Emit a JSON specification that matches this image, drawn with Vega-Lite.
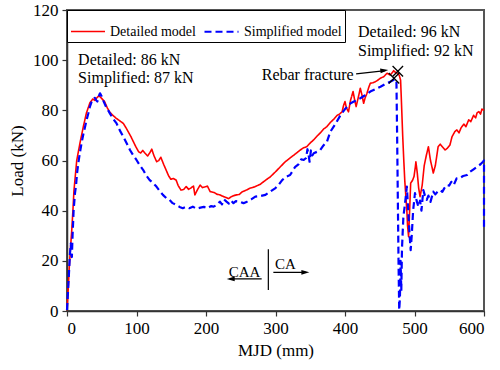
{
  "$schema": "https://vega.github.io/schema/vega-lite/v6.json",
  "width": 417,
  "height": 301,
  "autosize": {"type": "none"},
  "padding": {"left": 67, "top": 10, "right": 16, "bottom": 59},
  "config": {
    "view": {"stroke": "#555", "strokeWidth": 2},
    "font": "Liberation Serif",
    "axis": {
      "grid": false,
      "labelFont": "Liberation Serif",
      "labelFontSize": 17,
      "labelColor": "#000",
      "titleFont": "Liberation Serif",
      "titleFontSize": 17,
      "titleFontWeight": "normal",
      "titleColor": "#000",
      "domainColor": "#333",
      "domainWidth": 1.5,
      "tickColor": "#333",
      "tickWidth": 1.2,
      "labelOverlap": false,
      "labelPadding": 4
    },
    "legend": {
      "orient": "top-left",
      "offset": 0,
      "direction": "horizontal",
      "strokeColor": "#000",
      "fillColor": "#fff",
      "padding": 3,
      "labelFont": "Liberation Serif",
      "labelFontSize": 14,
      "labelColor": "#000",
      "symbolType": "stroke",
      "symbolSize": 1156,
      "symbolStrokeWidth": 1.8,
      "labelOffset": 4,
      "columnPadding": 4
    }
  },
  "datasets": {
    "curves": [
      {"model": "Detailed model", "x": 0, "y": 0.3},
      {"model": "Detailed model", "x": 2, "y": 10},
      {"model": "Detailed model", "x": 3.3, "y": 17.7},
      {"model": "Detailed model", "x": 5, "y": 25},
      {"model": "Detailed model", "x": 6.8, "y": 32},
      {"model": "Detailed model", "x": 8.5, "y": 40},
      {"model": "Detailed model", "x": 10, "y": 48},
      {"model": "Detailed model", "x": 12, "y": 54},
      {"model": "Detailed model", "x": 14, "y": 60},
      {"model": "Detailed model", "x": 18.7, "y": 67},
      {"model": "Detailed model", "x": 23.5, "y": 73.5},
      {"model": "Detailed model", "x": 28, "y": 79},
      {"model": "Detailed model", "x": 33, "y": 83},
      {"model": "Detailed model", "x": 37, "y": 84.5},
      {"model": "Detailed model", "x": 40, "y": 84},
      {"model": "Detailed model", "x": 43, "y": 85},
      {"model": "Detailed model", "x": 46, "y": 85.8},
      {"model": "Detailed model", "x": 49, "y": 85},
      {"model": "Detailed model", "x": 54, "y": 83.5},
      {"model": "Detailed model", "x": 58, "y": 81},
      {"model": "Detailed model", "x": 61, "y": 79.5},
      {"model": "Detailed model", "x": 66, "y": 78},
      {"model": "Detailed model", "x": 71, "y": 76.8},
      {"model": "Detailed model", "x": 76, "y": 75.8},
      {"model": "Detailed model", "x": 81, "y": 74.8},
      {"model": "Detailed model", "x": 85, "y": 73},
      {"model": "Detailed model", "x": 88, "y": 71.5},
      {"model": "Detailed model", "x": 92, "y": 69.5},
      {"model": "Detailed model", "x": 95.5, "y": 67.5},
      {"model": "Detailed model", "x": 99, "y": 65.5},
      {"model": "Detailed model", "x": 103, "y": 63.5},
      {"model": "Detailed model", "x": 106, "y": 63},
      {"model": "Detailed model", "x": 109, "y": 64},
      {"model": "Detailed model", "x": 112, "y": 63},
      {"model": "Detailed model", "x": 116, "y": 61.8},
      {"model": "Detailed model", "x": 119, "y": 63},
      {"model": "Detailed model", "x": 122, "y": 64.5},
      {"model": "Detailed model", "x": 125, "y": 62},
      {"model": "Detailed model", "x": 129, "y": 59.5},
      {"model": "Detailed model", "x": 132, "y": 60},
      {"model": "Detailed model", "x": 135, "y": 61.3},
      {"model": "Detailed model", "x": 139, "y": 58.5},
      {"model": "Detailed model", "x": 142.6, "y": 56.2},
      {"model": "Detailed model", "x": 146, "y": 54},
      {"model": "Detailed model", "x": 149.4, "y": 52.5},
      {"model": "Detailed model", "x": 153, "y": 52.8},
      {"model": "Detailed model", "x": 157, "y": 52.2},
      {"model": "Detailed model", "x": 160, "y": 50},
      {"model": "Detailed model", "x": 164, "y": 48.2},
      {"model": "Detailed model", "x": 168, "y": 48.5},
      {"model": "Detailed model", "x": 171.5, "y": 49.6},
      {"model": "Detailed model", "x": 175, "y": 48.5},
      {"model": "Detailed model", "x": 178, "y": 49},
      {"model": "Detailed model", "x": 182, "y": 49.8},
      {"model": "Detailed model", "x": 184, "y": 46.3},
      {"model": "Detailed model", "x": 188, "y": 48.5},
      {"model": "Detailed model", "x": 191.6, "y": 50.2},
      {"model": "Detailed model", "x": 195, "y": 49.2},
      {"model": "Detailed model", "x": 198.8, "y": 49.5},
      {"model": "Detailed model", "x": 202, "y": 49.8},
      {"model": "Detailed model", "x": 206, "y": 47.6},
      {"model": "Detailed model", "x": 212, "y": 47.2},
      {"model": "Detailed model", "x": 216, "y": 46.5},
      {"model": "Detailed model", "x": 220, "y": 46.3},
      {"model": "Detailed model", "x": 226, "y": 45.5},
      {"model": "Detailed model", "x": 229.5, "y": 45.2},
      {"model": "Detailed model", "x": 232.5, "y": 44.8},
      {"model": "Detailed model", "x": 236, "y": 45.5},
      {"model": "Detailed model", "x": 240, "y": 46},
      {"model": "Detailed model", "x": 244, "y": 46.3},
      {"model": "Detailed model", "x": 248, "y": 46.5},
      {"model": "Detailed model", "x": 252, "y": 47.5},
      {"model": "Detailed model", "x": 258, "y": 48.2},
      {"model": "Detailed model", "x": 263.7, "y": 49},
      {"model": "Detailed model", "x": 270, "y": 49.5},
      {"model": "Detailed model", "x": 278, "y": 50.5},
      {"model": "Detailed model", "x": 285, "y": 52},
      {"model": "Detailed model", "x": 292.5, "y": 53.5},
      {"model": "Detailed model", "x": 300, "y": 55.5},
      {"model": "Detailed model", "x": 307, "y": 57.5},
      {"model": "Detailed model", "x": 314, "y": 59.5},
      {"model": "Detailed model", "x": 321, "y": 61},
      {"model": "Detailed model", "x": 328, "y": 62.5},
      {"model": "Detailed model", "x": 335.7, "y": 64.2},
      {"model": "Detailed model", "x": 340, "y": 65},
      {"model": "Detailed model", "x": 345, "y": 65.5},
      {"model": "Detailed model", "x": 350, "y": 67},
      {"model": "Detailed model", "x": 354.8, "y": 68.2},
      {"model": "Detailed model", "x": 360, "y": 69.8},
      {"model": "Detailed model", "x": 364.5, "y": 71},
      {"model": "Detailed model", "x": 369, "y": 72.5},
      {"model": "Detailed model", "x": 374, "y": 73.5},
      {"model": "Detailed model", "x": 379, "y": 75.2},
      {"model": "Detailed model", "x": 384, "y": 76.5},
      {"model": "Detailed model", "x": 388.6, "y": 78},
      {"model": "Detailed model", "x": 392, "y": 78.5},
      {"model": "Detailed model", "x": 395.8, "y": 79.4},
      {"model": "Detailed model", "x": 398, "y": 82},
      {"model": "Detailed model", "x": 400, "y": 83.5},
      {"model": "Detailed model", "x": 402, "y": 81},
      {"model": "Detailed model", "x": 405, "y": 79.4},
      {"model": "Detailed model", "x": 408, "y": 84},
      {"model": "Detailed model", "x": 411.6, "y": 87.5},
      {"model": "Detailed model", "x": 414, "y": 84},
      {"model": "Detailed model", "x": 416, "y": 81.5},
      {"model": "Detailed model", "x": 419, "y": 85},
      {"model": "Detailed model", "x": 422, "y": 88.8},
      {"model": "Detailed model", "x": 424.5, "y": 86},
      {"model": "Detailed model", "x": 426.8, "y": 82.8},
      {"model": "Detailed model", "x": 429, "y": 85},
      {"model": "Detailed model", "x": 431.6, "y": 86.8},
      {"model": "Detailed model", "x": 434, "y": 89},
      {"model": "Detailed model", "x": 436.4, "y": 90.8},
      {"model": "Detailed model", "x": 440, "y": 91},
      {"model": "Detailed model", "x": 443.6, "y": 91.4},
      {"model": "Detailed model", "x": 447, "y": 92},
      {"model": "Detailed model", "x": 450.9, "y": 92.8},
      {"model": "Detailed model", "x": 455.7, "y": 93.4},
      {"model": "Detailed model", "x": 460.5, "y": 94.8},
      {"model": "Detailed model", "x": 465, "y": 94.1},
      {"model": "Detailed model", "x": 468, "y": 95},
      {"model": "Detailed model", "x": 470, "y": 95.8},
      {"model": "Detailed model", "x": 473, "y": 95},
      {"model": "Detailed model", "x": 476, "y": 94.8},
      {"model": "Detailed model", "x": 478, "y": 94},
      {"model": "Detailed model", "x": 480, "y": 92},
      {"model": "Detailed model", "x": 481, "y": 85},
      {"model": "Detailed model", "x": 482, "y": 77.5},
      {"model": "Detailed model", "x": 483, "y": 70},
      {"model": "Detailed model", "x": 484.6, "y": 60},
      {"model": "Detailed model", "x": 486, "y": 52},
      {"model": "Detailed model", "x": 487, "y": 48},
      {"model": "Detailed model", "x": 489, "y": 40},
      {"model": "Detailed model", "x": 490, "y": 34},
      {"model": "Detailed model", "x": 491.5, "y": 29.6},
      {"model": "Detailed model", "x": 493, "y": 40},
      {"model": "Detailed model", "x": 494.5, "y": 51},
      {"model": "Detailed model", "x": 497, "y": 52},
      {"model": "Detailed model", "x": 499.3, "y": 53.6},
      {"model": "Detailed model", "x": 501, "y": 57},
      {"model": "Detailed model", "x": 502, "y": 59.5},
      {"model": "Detailed model", "x": 504, "y": 55},
      {"model": "Detailed model", "x": 506, "y": 49},
      {"model": "Detailed model", "x": 508, "y": 45.6},
      {"model": "Detailed model", "x": 511, "y": 50},
      {"model": "Detailed model", "x": 514, "y": 58},
      {"model": "Detailed model", "x": 517, "y": 62},
      {"model": "Detailed model", "x": 520, "y": 65.5},
      {"model": "Detailed model", "x": 523, "y": 60},
      {"model": "Detailed model", "x": 525.5, "y": 57},
      {"model": "Detailed model", "x": 527, "y": 55},
      {"model": "Detailed model", "x": 530, "y": 58},
      {"model": "Detailed model", "x": 534, "y": 65.5},
      {"model": "Detailed model", "x": 537, "y": 66.5},
      {"model": "Detailed model", "x": 540, "y": 65.5},
      {"model": "Detailed model", "x": 544, "y": 64.2},
      {"model": "Detailed model", "x": 547, "y": 64.8},
      {"model": "Detailed model", "x": 551, "y": 66.2},
      {"model": "Detailed model", "x": 554, "y": 69.5},
      {"model": "Detailed model", "x": 558, "y": 71.5},
      {"model": "Detailed model", "x": 561, "y": 72.2},
      {"model": "Detailed model", "x": 564, "y": 71},
      {"model": "Detailed model", "x": 567, "y": 73},
      {"model": "Detailed model", "x": 571, "y": 74.5},
      {"model": "Detailed model", "x": 574, "y": 73.5},
      {"model": "Detailed model", "x": 578, "y": 76.2},
      {"model": "Detailed model", "x": 581, "y": 75.5},
      {"model": "Detailed model", "x": 585, "y": 78},
      {"model": "Detailed model", "x": 588, "y": 77},
      {"model": "Detailed model", "x": 590, "y": 79},
      {"model": "Detailed model", "x": 592.6, "y": 79.5},
      {"model": "Detailed model", "x": 595, "y": 78.5},
      {"model": "Detailed model", "x": 597, "y": 80.5},
      {"model": "Detailed model", "x": 600, "y": 80},
      {"model": "Simplified model", "x": 0, "y": 0.4},
      {"model": "Simplified model", "x": 1.5, "y": 8},
      {"model": "Simplified model", "x": 3, "y": 16},
      {"model": "Simplified model", "x": 4.3, "y": 23},
      {"model": "Simplified model", "x": 5.5, "y": 27},
      {"model": "Simplified model", "x": 6.3, "y": 22},
      {"model": "Simplified model", "x": 7, "y": 21.5},
      {"model": "Simplified model", "x": 8, "y": 30},
      {"model": "Simplified model", "x": 9.5, "y": 40},
      {"model": "Simplified model", "x": 11.5, "y": 47},
      {"model": "Simplified model", "x": 13, "y": 50},
      {"model": "Simplified model", "x": 14.5, "y": 55},
      {"model": "Simplified model", "x": 16.3, "y": 59},
      {"model": "Simplified model", "x": 18.5, "y": 63},
      {"model": "Simplified model", "x": 21, "y": 67},
      {"model": "Simplified model", "x": 23.5, "y": 70.5},
      {"model": "Simplified model", "x": 26, "y": 73.5},
      {"model": "Simplified model", "x": 28.5, "y": 76.5},
      {"model": "Simplified model", "x": 30.7, "y": 78.8},
      {"model": "Simplified model", "x": 33, "y": 81.5},
      {"model": "Simplified model", "x": 35.5, "y": 83.5},
      {"model": "Simplified model", "x": 38, "y": 84.5},
      {"model": "Simplified model", "x": 40, "y": 85},
      {"model": "Simplified model", "x": 42, "y": 84},
      {"model": "Simplified model", "x": 43.7, "y": 83.5},
      {"model": "Simplified model", "x": 45.5, "y": 85.5},
      {"model": "Simplified model", "x": 47.5, "y": 86.8},
      {"model": "Simplified model", "x": 50, "y": 85.5},
      {"model": "Simplified model", "x": 52, "y": 84},
      {"model": "Simplified model", "x": 56, "y": 81.5},
      {"model": "Simplified model", "x": 61.7, "y": 78.8},
      {"model": "Simplified model", "x": 66, "y": 76.8},
      {"model": "Simplified model", "x": 71.3, "y": 74.8},
      {"model": "Simplified model", "x": 76, "y": 72},
      {"model": "Simplified model", "x": 81, "y": 69.5},
      {"model": "Simplified model", "x": 86, "y": 66.8},
      {"model": "Simplified model", "x": 90.6, "y": 64.2},
      {"model": "Simplified model", "x": 95, "y": 62.2},
      {"model": "Simplified model", "x": 100, "y": 60.2},
      {"model": "Simplified model", "x": 105, "y": 58},
      {"model": "Simplified model", "x": 109.7, "y": 56.2},
      {"model": "Simplified model", "x": 114, "y": 54},
      {"model": "Simplified model", "x": 119, "y": 52.2},
      {"model": "Simplified model", "x": 124, "y": 51},
      {"model": "Simplified model", "x": 128.7, "y": 49.6},
      {"model": "Simplified model", "x": 133, "y": 48},
      {"model": "Simplified model", "x": 138, "y": 46.3},
      {"model": "Simplified model", "x": 143, "y": 45},
      {"model": "Simplified model", "x": 147.6, "y": 44.3},
      {"model": "Simplified model", "x": 152, "y": 43},
      {"model": "Simplified model", "x": 157, "y": 42.3},
      {"model": "Simplified model", "x": 162, "y": 41.5},
      {"model": "Simplified model", "x": 166.6, "y": 41},
      {"model": "Simplified model", "x": 171, "y": 41.5},
      {"model": "Simplified model", "x": 176, "y": 41},
      {"model": "Simplified model", "x": 181, "y": 41.6},
      {"model": "Simplified model", "x": 186, "y": 40.8},
      {"model": "Simplified model", "x": 192, "y": 41.2},
      {"model": "Simplified model", "x": 197, "y": 41.5},
      {"model": "Simplified model", "x": 202, "y": 41},
      {"model": "Simplified model", "x": 207, "y": 41.8},
      {"model": "Simplified model", "x": 211, "y": 41.6},
      {"model": "Simplified model", "x": 215.7, "y": 42.3},
      {"model": "Simplified model", "x": 220, "y": 43.6},
      {"model": "Simplified model", "x": 223, "y": 42.5},
      {"model": "Simplified model", "x": 226, "y": 44.5},
      {"model": "Simplified model", "x": 229.5, "y": 43.6},
      {"model": "Simplified model", "x": 233, "y": 42.8},
      {"model": "Simplified model", "x": 236, "y": 44},
      {"model": "Simplified model", "x": 239.5, "y": 43},
      {"model": "Simplified model", "x": 243, "y": 43.8},
      {"model": "Simplified model", "x": 248.6, "y": 43.6},
      {"model": "Simplified model", "x": 254, "y": 43},
      {"model": "Simplified model", "x": 259, "y": 43.6},
      {"model": "Simplified model", "x": 265, "y": 44.5},
      {"model": "Simplified model", "x": 271, "y": 45.6},
      {"model": "Simplified model", "x": 278, "y": 45.8},
      {"model": "Simplified model", "x": 285.5, "y": 46.3},
      {"model": "Simplified model", "x": 292, "y": 47.5},
      {"model": "Simplified model", "x": 300, "y": 49},
      {"model": "Simplified model", "x": 305, "y": 50.5},
      {"model": "Simplified model", "x": 309.6, "y": 52.2},
      {"model": "Simplified model", "x": 315, "y": 53.5},
      {"model": "Simplified model", "x": 321, "y": 54.2},
      {"model": "Simplified model", "x": 325, "y": 56},
      {"model": "Simplified model", "x": 328.4, "y": 57.5},
      {"model": "Simplified model", "x": 333, "y": 58.5},
      {"model": "Simplified model", "x": 337, "y": 60.5},
      {"model": "Simplified model", "x": 340.6, "y": 60.2},
      {"model": "Simplified model", "x": 344, "y": 61},
      {"model": "Simplified model", "x": 346, "y": 64.5},
      {"model": "Simplified model", "x": 347.7, "y": 62.2},
      {"model": "Simplified model", "x": 349, "y": 59.5},
      {"model": "Simplified model", "x": 351, "y": 64},
      {"model": "Simplified model", "x": 353, "y": 62},
      {"model": "Simplified model", "x": 355, "y": 62.9},
      {"model": "Simplified model", "x": 360, "y": 63.5},
      {"model": "Simplified model", "x": 364.5, "y": 64.2},
      {"model": "Simplified model", "x": 369, "y": 66},
      {"model": "Simplified model", "x": 374, "y": 67.5},
      {"model": "Simplified model", "x": 379, "y": 71.5},
      {"model": "Simplified model", "x": 386, "y": 74.5},
      {"model": "Simplified model", "x": 393.4, "y": 78},
      {"model": "Simplified model", "x": 400, "y": 80.5},
      {"model": "Simplified model", "x": 408, "y": 82.8},
      {"model": "Simplified model", "x": 415, "y": 83.8},
      {"model": "Simplified model", "x": 422, "y": 84.8},
      {"model": "Simplified model", "x": 429, "y": 86},
      {"model": "Simplified model", "x": 436.4, "y": 87.5},
      {"model": "Simplified model", "x": 444, "y": 88.5},
      {"model": "Simplified model", "x": 451, "y": 89.4},
      {"model": "Simplified model", "x": 458, "y": 90.5},
      {"model": "Simplified model", "x": 465, "y": 91.4},
      {"model": "Simplified model", "x": 469, "y": 92},
      {"model": "Simplified model", "x": 472.6, "y": 92.4},
      {"model": "Simplified model", "x": 474, "y": 92},
      {"model": "Simplified model", "x": 475, "y": 70},
      {"model": "Simplified model", "x": 476, "y": 45},
      {"model": "Simplified model", "x": 477, "y": 20},
      {"model": "Simplified model", "x": 478, "y": 0.4},
      {"model": "Simplified model", "x": 479, "y": 5},
      {"model": "Simplified model", "x": 480, "y": 20},
      {"model": "Simplified model", "x": 481, "y": 8},
      {"model": "Simplified model", "x": 482, "y": 25},
      {"model": "Simplified model", "x": 484, "y": 37.6},
      {"model": "Simplified model", "x": 486, "y": 42},
      {"model": "Simplified model", "x": 489, "y": 49.6},
      {"model": "Simplified model", "x": 491, "y": 40},
      {"model": "Simplified model", "x": 493, "y": 30},
      {"model": "Simplified model", "x": 494.5, "y": 24.3},
      {"model": "Simplified model", "x": 496, "y": 30},
      {"model": "Simplified model", "x": 498, "y": 40},
      {"model": "Simplified model", "x": 500.7, "y": 47},
      {"model": "Simplified model", "x": 503, "y": 44},
      {"model": "Simplified model", "x": 505.5, "y": 41.6},
      {"model": "Simplified model", "x": 508, "y": 44},
      {"model": "Simplified model", "x": 510, "y": 40},
      {"model": "Simplified model", "x": 512.7, "y": 48.2},
      {"model": "Simplified model", "x": 515, "y": 46},
      {"model": "Simplified model", "x": 517.6, "y": 44.3},
      {"model": "Simplified model", "x": 520, "y": 46},
      {"model": "Simplified model", "x": 523, "y": 43.5},
      {"model": "Simplified model", "x": 527, "y": 47.6},
      {"model": "Simplified model", "x": 530, "y": 46.5},
      {"model": "Simplified model", "x": 533, "y": 47.5},
      {"model": "Simplified model", "x": 536.7, "y": 48.2},
      {"model": "Simplified model", "x": 540, "y": 47.5},
      {"model": "Simplified model", "x": 543, "y": 49},
      {"model": "Simplified model", "x": 546.3, "y": 50.2},
      {"model": "Simplified model", "x": 550, "y": 50},
      {"model": "Simplified model", "x": 553, "y": 51.5},
      {"model": "Simplified model", "x": 556.4, "y": 50.2},
      {"model": "Simplified model", "x": 560.7, "y": 52.9},
      {"model": "Simplified model", "x": 565, "y": 53},
      {"model": "Simplified model", "x": 570, "y": 53.8},
      {"model": "Simplified model", "x": 575.6, "y": 54.2},
      {"model": "Simplified model", "x": 580, "y": 55.5},
      {"model": "Simplified model", "x": 585, "y": 56.5},
      {"model": "Simplified model", "x": 590, "y": 57.5},
      {"model": "Simplified model", "x": 595, "y": 58.5},
      {"model": "Simplified model", "x": 598.6, "y": 59.5},
      {"model": "Simplified model", "x": 600, "y": 60},
      {"model": "Simplified model", "x": 600, "y": 32}
    ],
    "notes": [
      {"x": 16, "y": 100, "text": "Detailed: 86 kN"},
      {"x": 16, "y": 92.9, "text": "Simplified: 87 kN"},
      {"x": 418.7, "y": 111.4, "text": "Detailed: 96 kN"},
      {"x": 418.7, "y": 103.8, "text": "Simplified: 92 kN"},
      {"x": 280.2, "y": 94.1, "text": "Rebar fracture"}
    ],
    "dirs": [
      {"x": 255.4, "y": 15.5, "text": "CAA"},
      {"x": 314.4, "y": 18.7, "text": "CA"}
    ],
    "segs": [
      {"x": 416, "y": 94.5, "x2": 458, "y2": 95.8},
      {"x": 234, "y": 12.8, "x2": 280.1, "y2": 12.8},
      {"x": 296.9, "y": 15.4, "x2": 344, "y2": 15.4},
      {"x": 289.7, "y": 8.4, "x2": 289.7, "y2": 24.6}
    ],
    "heads": [
      {"x": 462.3, "y": 96.1, "dir": "right-tilt"},
      {"x": 229.8, "y": 12.8, "dir": "left"},
      {"x": 348.7, "y": 15.4, "dir": "right"}
    ],
    "peaks": [
      {"x": 476, "y": 95.6},
      {"x": 470.5, "y": 92.8}
    ]
  },
  "layer": [
    {
      "data": {"name": "curves"},
      "transform": [{"window": [{"op": "row_number", "as": "i"}]}],
      "mark": {"type": "line", "strokeJoin": "round"},
      "encoding": {
        "x": {
          "field": "x", "type": "quantitative",
          "scale": {"domain": [0, 600], "nice": false, "zero": false},
          "axis": {
            "title": "MJD (mm)",
            "values": [0, 50, 100, 150, 200, 250, 300, 350, 400, 450, 500, 550, 600],
            "labelExpr": "datum.value % 100 === 0 ? datum.label : ''",
            "tickSize": {"condition": {"test": "datum.value % 100 === 0", "value": 5}, "value": 2.5},
            "titlePadding": 6
          }
        },
        "y": {
          "field": "y", "type": "quantitative",
          "scale": {"domain": [0, 120], "nice": false},
          "axis": {
            "title": "Load (kN)",
            "values": [0, 10, 20, 30, 40, 50, 60, 70, 80, 90, 100, 110, 120],
            "labelExpr": "datum.value % 20 === 0 ? datum.label : ''",
            "tickSize": {"condition": {"test": "datum.value % 20 === 0", "value": 5}, "value": 2.5},
            "titlePadding": 6
          }
        },
        "color": {
          "field": "model", "type": "nominal",
          "scale": {"domain": ["Detailed model", "Simplified model"], "range": ["#ff0000", "#0000ff"]},
          "legend": {"title": null}
        },
        "strokeDash": {
          "field": "model", "type": "nominal",
          "scale": {"domain": ["Detailed model", "Simplified model"], "range": [[1, 0], [7, 4]]},
          "legend": {"title": null}
        },
        "strokeWidth": {
          "field": "model", "type": "nominal",
          "scale": {"domain": ["Detailed model", "Simplified model"], "range": [1.6, 2.2]},
          "legend": null
        },
        "order": {"field": "i", "type": "quantitative"}
      }
    },
    {
      "data": {"name": "peaks"},
      "mark": {"type": "point", "shape": "M-1,-1L1,1M-1,1L1,-1", "filled": false, "stroke": "#000", "strokeWidth": 1.3, "size": 110, "opacity": 1},
      "encoding": {
        "x": {"field": "x", "type": "quantitative"},
        "y": {"field": "y", "type": "quantitative"}
      }
    },
    {
      "data": {"name": "segs"},
      "mark": {"type": "rule", "color": "#000", "strokeWidth": 1.2},
      "encoding": {
        "x": {"field": "x", "type": "quantitative"},
        "y": {"field": "y", "type": "quantitative"},
        "x2": {"field": "x2"},
        "y2": {"field": "y2"}
      }
    },
    {
      "data": {"name": "heads"},
      "transform": [{"filter": "datum.dir === 'right'"}],
      "mark": {"type": "point", "shape": "M0,0L-2,-0.6L-2,0.6Z", "filled": true, "color": "#000", "size": 64, "opacity": 1},
      "encoding": {
        "x": {"field": "x", "type": "quantitative"},
        "y": {"field": "y", "type": "quantitative"}
      }
    },
    {
      "data": {"name": "heads"},
      "transform": [{"filter": "datum.dir === 'right-tilt'"}],
      "mark": {"type": "point", "shape": "M0,0L-2,-0.6L-2,0.6Z", "filled": true, "color": "#000", "size": 64, "angle": 353, "opacity": 1},
      "encoding": {
        "x": {"field": "x", "type": "quantitative"},
        "y": {"field": "y", "type": "quantitative"}
      }
    },
    {
      "data": {"name": "heads"},
      "transform": [{"filter": "datum.dir === 'left'"}],
      "mark": {"type": "point", "shape": "M0,0L2,-0.6L2,0.6Z", "filled": true, "color": "#000", "size": 64, "opacity": 1},
      "encoding": {
        "x": {"field": "x", "type": "quantitative"},
        "y": {"field": "y", "type": "quantitative"}
      }
    },
    {
      "data": {"name": "notes"},
      "mark": {"type": "text", "align": "left", "baseline": "middle", "font": "Liberation Serif", "fontSize": 16, "color": "#000"},
      "encoding": {
        "x": {"field": "x", "type": "quantitative"},
        "y": {"field": "y", "type": "quantitative"},
        "text": {"field": "text"}
      }
    },
    {
      "data": {"name": "dirs"},
      "mark": {"type": "text", "align": "center", "baseline": "middle", "font": "Liberation Serif", "fontSize": 15, "color": "#000"},
      "encoding": {
        "x": {"field": "x", "type": "quantitative"},
        "y": {"field": "y", "type": "quantitative"},
        "text": {"field": "text"}
      }
    }
  ]
}
